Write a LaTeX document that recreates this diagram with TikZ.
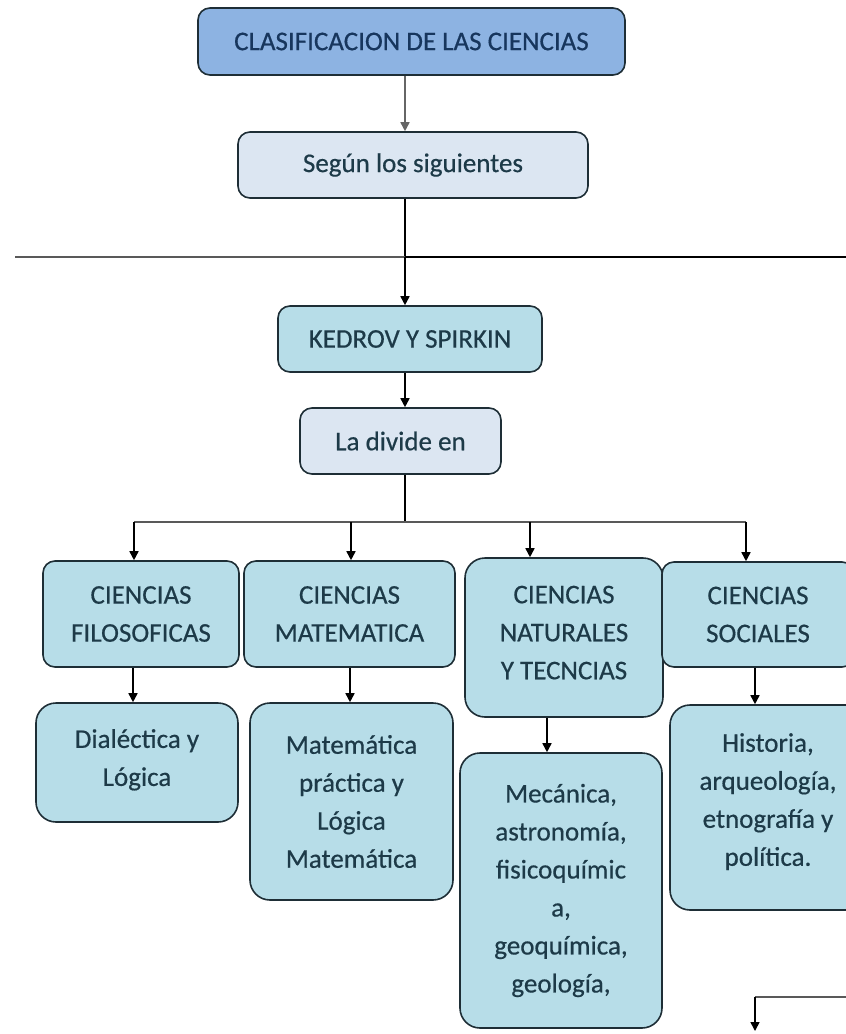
\documentclass[tikz,border=0pt]{standalone}
\usepackage{fontspec}
\setmainfont{Carlito}[FakeBold=0.5]
\usetikzlibrary{arrows.meta}
\definecolor{topfill}{HTML}{8DB3E2}
\definecolor{lightfill}{HTML}{DCE6F2}
\definecolor{aquafill}{HTML}{B7DDE8}
\definecolor{edgec}{HTML}{1E2E36}
\definecolor{txtc}{HTML}{1D3A48}
\definecolor{navytxt}{HTML}{17365D}
\tikzset{
  cbox/.style={draw=edgec, line width=1.6pt, rounded corners=12pt, fill=aquafill,
    inner sep=0pt, align=center, text=txtc,
    font=\fontsize{27}{38}\selectfont},
  tallbox/.style={cbox, rounded corners=20pt},
  lbox/.style={cbox, fill=lightfill},
  tbox/.style={cbox, fill=topfill, text=navytxt},
  conn/.style={line width=1.6pt, draw=black},
  arr/.style={conn, -{Triangle[length=9pt,width=9pt]}},
  grayarr/.style={arr, draw=gray!80!black},
  grayline/.style={line width=2pt, draw=gray!70!black},
  blackline/.style={line width=2pt, draw=black}
}
\begin{document}
\begin{tikzpicture}[x=1pt,y=-1pt]
\useasboundingbox (0,0) rectangle (846,1034);
\clip (0,0) rectangle (846,1034);
\fill[white] (0,0) rectangle (846,1034);

% nodes
\node[tbox, minimum width=427pt, minimum height=67pt] (top) at (411.5,41.5) {CLASIFICACION DE LAS CIENCIAS};
\node[lbox, minimum width=350pt, minimum height=66pt] (seg) at (413,165) {Según los siguientes};
\node[cbox, minimum width=264pt, minimum height=66pt] (ked) at (410,339) {KEDROV Y SPIRKIN};
\node[lbox, minimum width=201pt, minimum height=66pt] (div) at (400.5,441) {La divide en};

\node[cbox, minimum width=196pt, minimum height=106pt] (fil) at (141,614) {CIENCIAS\\FILOSOFICAS};
\node[cbox, minimum width=211pt, minimum height=106pt] (mat) at (349.5,614) {CIENCIAS\\MATEMATICA};
\node[tallbox, minimum width=198pt, minimum height=159pt] (nat) at (564,637.5) {CIENCIAS\\NATURALES\\Y TECNCIAS\\[-28pt]\mbox{}};
\node[cbox, minimum width=192pt, minimum height=105pt] (soc) at (758,614.5) {CIENCIAS\\SOCIALES};

\node[tallbox, minimum width=202pt, minimum height=119pt] (dia) at (137,762.5) {Dialéctica y\\Lógica\\[-28pt]\mbox{}};
\node[tallbox, minimum width=203pt, minimum height=197pt] (mtp) at (351.5,801.5) {Matemática\\práctica y\\Lógica\\Matemática};
\node[tallbox, minimum width=202pt, minimum height=275pt] (mec) at (561,890.5) {Mecánica,\\astronomía,\\fisicoquímic\\a,\\geoquímica,\\geología,};
\node[tallbox, minimum width=196pt, minimum height=205pt] (his) at (768,807.5) {Historia,\\arqueología,\\etnografía y\\política.\\[-22pt]\mbox{}};

% helper coordinates
\coordinate (axis) at (405,0);
\coordinate (hl) at (15,257);
\coordinate (hg) at (437,257);
\coordinate (hr) at (846,257);
\coordinate (hj) at (405,257);
\coordinate (bj) at (405,522);
\coordinate (bl) at (134,522);
\coordinate (br) at (746,522);
\coordinate (x2) at (351,522);
\coordinate (x3) at (530,522);
\coordinate (pr) at (846,997);
\coordinate (pc) at (755,997);
\coordinate (pe) at (755,1031);

% top connectors
\draw[grayarr] (top.south -| axis) -- (seg.north -| axis);
\draw[conn] (seg.south -| axis) -- (hj);
\draw[grayline] (hl) -- (hg);
\draw[blackline] (hj) -- (hr);
\draw[arr] (hj) -- (ked.north -| axis);
\draw[arr] (ked.south -| axis) -- (div.north -| axis);
\draw[conn] (div.south -| axis) -- (bj);

% branch
\draw[grayline] (bl) -- (br);
\draw[arr] (bl) -- (fil.north -| bl);
\draw[arr] (x2) -- (mat.north -| x2);
\draw[arr] (x3) -- (nat.north -| x3);
\draw[arr] (br) -- (soc.north -| br);

% second level
\coordinate (a1) at (133,0);
\coordinate (a2) at (350,0);
\coordinate (a3) at (547,0);
\coordinate (a4) at (755,0);
\draw[arr] (fil.south -| a1) -- (dia.north -| a1);
\draw[arr] (mat.south -| a2) -- (mtp.north -| a2);
\draw[arr] (nat.south -| a3) -- (mec.north -| a3);
\draw[arr] (soc.south -| a4) -- (his.north -| a4);

% bottom right partial connector
\draw[grayline] (pr) -- (pc);
\draw[arr] (pc) -- (pe);
\end{tikzpicture}
\end{document}
